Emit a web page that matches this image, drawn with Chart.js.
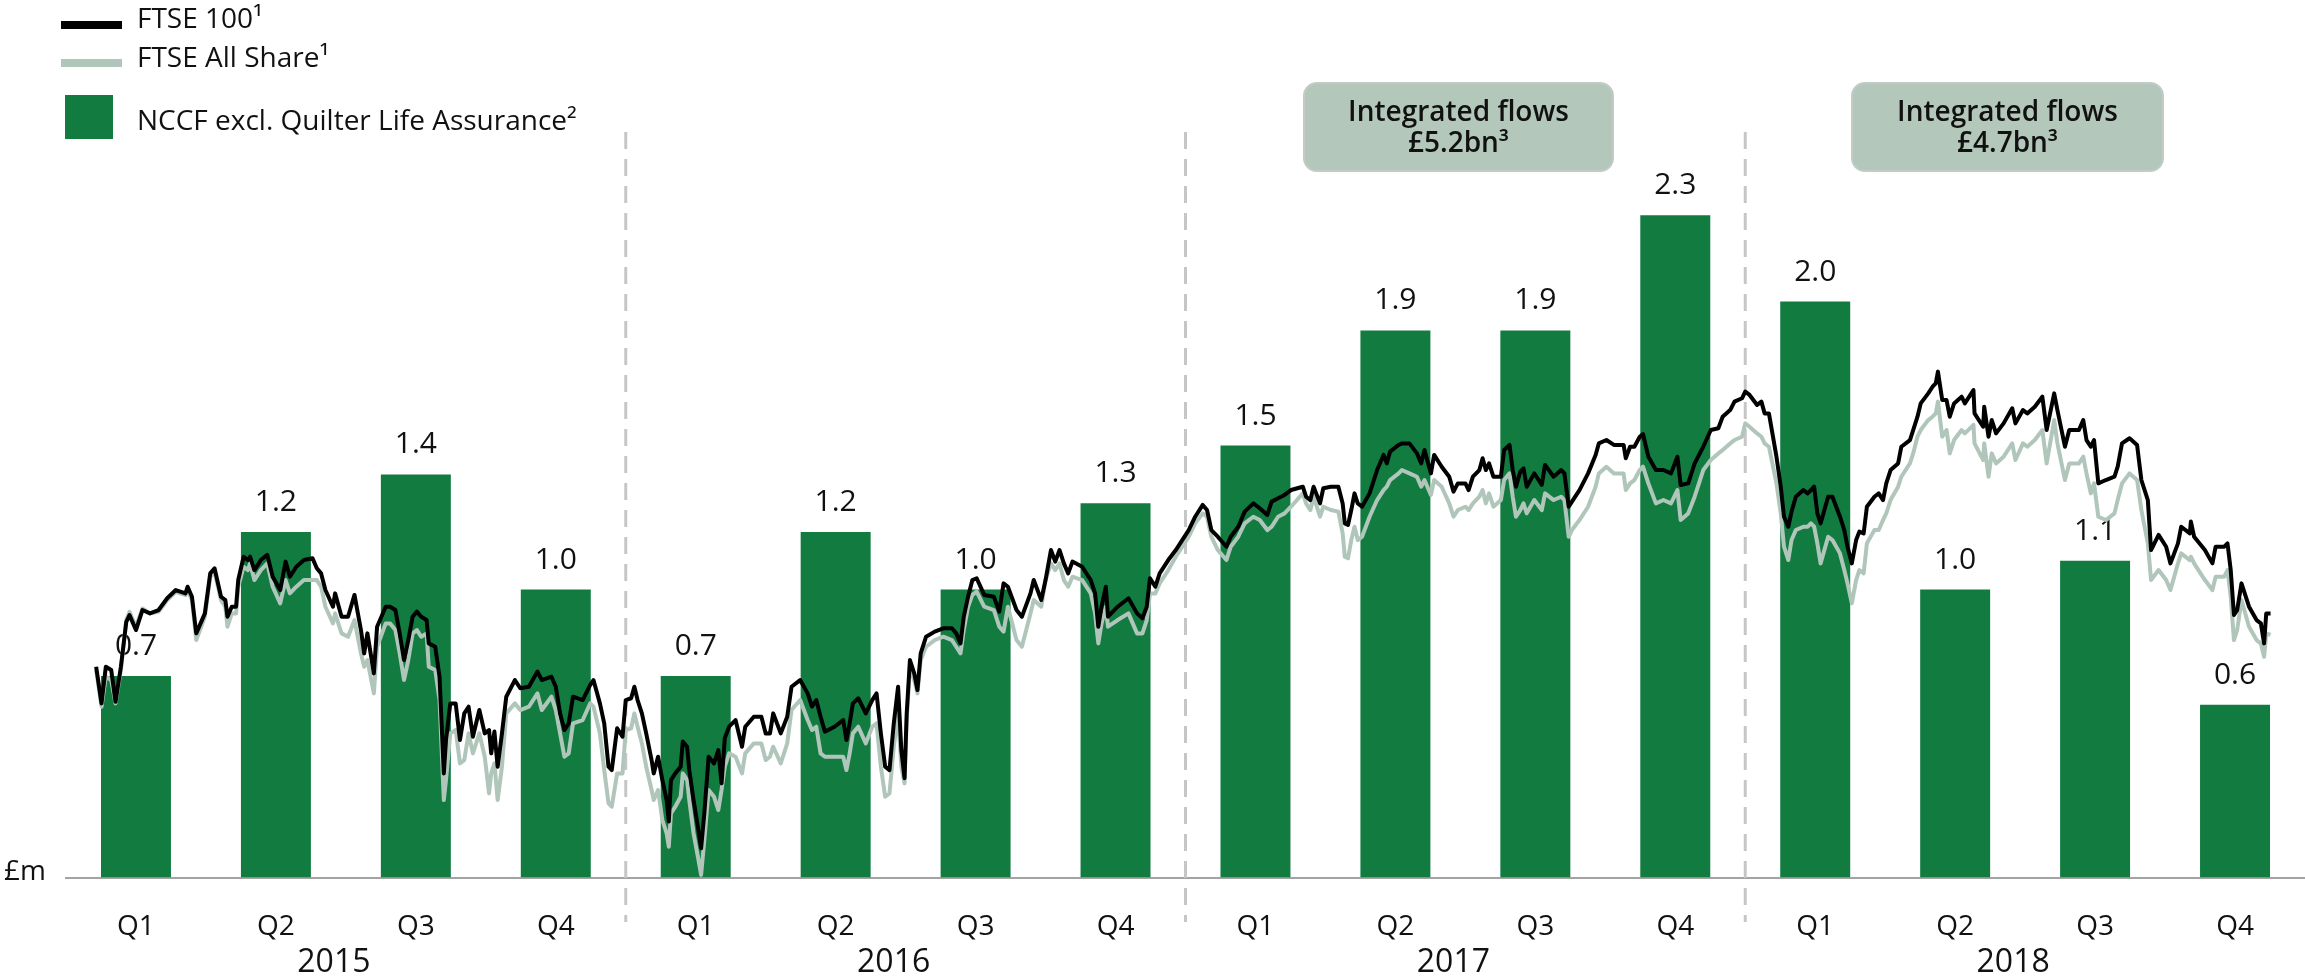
<!DOCTYPE html>
<html>
<head>
<meta charset="utf-8">
<script src="https://cdn.jsdelivr.net/npm/chart.js@4"></script>
<style>
    body { margin: 0; background: #fff; }
    #wrap { position: relative; width: 2305px; height: 980px; font-family: 'Open Sans', sans-serif; color: #111; }
    #chart { position: absolute; left: 0; top: 0; }
    .leg-line { position: absolute; left: 61px; width: 61px; height: 8px; }
    .leg-box { position: absolute; left: 65px; top: 95px; width: 48px; height: 44px; background: #117b40; }
    .leg-text { position: absolute; left: 137px; font-size: 28px; line-height: 28px; white-space: nowrap; }
    .unit { position: absolute; left: 4px; top: 855px; font-size: 28px; line-height: 28px; }
    .flow-box {
        position: absolute; top: 82px; height: 90px; box-sizing: border-box;
        border: 2px solid #c2cbc6; border-radius: 14px; background: #b3c7bb;
    }
    .flow-box div {
        position: absolute; left: 0; right: 0; text-align: center;
        font-size: 28px; font-weight: 600; line-height: 28px; white-space: nowrap;
    }
    .flow-box .l1 { top: 12px; }
    .flow-box .l2 { top: 43px; }
</style>
</head>
<body>
<div id="wrap">
    <canvas id="chart" width="2305" height="980"></canvas>

    <!-- legend -->
    <div class="leg-line" style="top:21px;background:#000;"></div>
    <div class="leg-text" style="top:3px;">FTSE 100¹</div>
    <div class="leg-line" style="top:59px;background:#b0c6ba;"></div>
    <div class="leg-text" style="top:42px;">FTSE All Share¹</div>
    <div class="leg-box"></div>
    <div class="leg-text" style="top:105px;">NCCF excl. Quilter Life Assurance²</div>

    <div class="unit">£m</div>

    <!-- integrated flows call-outs -->
    <div class="flow-box" style="left:1303px;width:311px;"><div class="l1">Integrated flows</div><div class="l2">£5.2bn³</div></div>
    <div class="flow-box" style="left:1851px;width:313px;"><div class="l1">Integrated flows</div><div class="l2">£4.7bn³</div></div>
</div>

<script>
// --- Data ---
const quarterLabels = ['Q1','Q2','Q3','Q4','Q1','Q2','Q3','Q4','Q1','Q2','Q3','Q4','Q1','Q2','Q3','Q4'];
const yearLabels = ['2015', '2016', '2017', '2018'];
const nccf = [0.7, 1.2, 1.4, 1.0, 0.7, 1.2, 1.0, 1.3, 1.5, 1.9, 1.9, 2.3, 2.0, 1.0, 1.1, 0.6];

// index series, x = week number from 1 Jan 2015 (0..208)
const weeks = [
    2.8,3.3,3.7,4.2,4.6,5.1,5.6,5.9,6.5,7.1,
    7.8,8.6,9.4,10.2,11.1,11.3,11.7,12.1,12.9,13.4,
    13.8,14.4,14.8,15.0,15.4,15.8,16.0,16.5,16.9,17.1,
    17.5,18.1,18.7,19.2,19.9,20.4,20.8,21.4,22.1,22.9,
    23.3,23.7,24.1,24.8,25.0,25.6,26.2,26.8,27.4,27.7,
    28.0,28.6,28.9,29.7,30.1,30.6,31.0,31.4,31.8,32.2,
    32.6,33.0,33.5,33.7,34.3,34.7,35.1,35.3,35.7,36.2,
    36.6,37.0,37.4,37.8,38.4,38.9,39.3,39.5,39.8,40.1,
    40.5,40.9,41.7,42.2,43.0,43.8,44.2,45.1,45.5,45.9,
    46.3,46.7,47.1,48.0,48.7,49.0,
    49.6,50.0,50.4,50.7,51.2,51.7,52.0,52.5,52.8,53.1,
    53.5,53.9,54.4,54.6,55.0,55.4,55.8,56.0,56.2,56.6,
    57.1,57.3,57.7,57.9,58.3,58.7,59.0,59.3,59.7,60.2,
    60.6,60.9,61.2,61.6,62.2,62.8,63.1,63.9,64.6,65.0,
    65.4,65.7,66.4,67.0,67.4,68.2,68.9,69.3,69.7,70.1,
    70.5,71.4,72.2,72.5,72.8,73.1,73.6,74.3,74.9,75.3,
    75.7,76.1,76.5,76.9,77.3,77.6,77.9,78.1,78.4,78.8,
    79.1,79.4,79.9,80.7,81.5,82.3,82.7,83.1,83.4,83.8,
    84.2,84.6,85.3,86.2,86.7,87.1,87.5,88.3,88.8,89.6,
    89.9,90.6,91.0,91.5,91.9,92.3,92.7,93.1,93.5,94.4,
    95.2,95.6,95.9,96.2,96.6,96.8,97.7,98.7,99.5,100.0,
    100.4,100.7,101.2,101.6,102.4,103.1,103.7,104.3,104.9,105.6,
    106.0,106.4,107.0,107.8,108.2,108.9,109.5,110.3,110.9,111.6,
    112.0,112.6,113.2,113.8,
    114.9,115.2,115.6,115.9,116.5,116.8,117.5,118.2,118.6,118.8,
    119.1,119.4,119.7,120.0,120.4,121.1,121.8,122.4,122.7,123.0,
    123.8,124.1,124.8,125.5,125.9,126.2,126.8,127.1,127.8,128.5,
    128.9,129.3,130.0,130.3,130.7,131.3,131.6,131.9,132.2,132.6,
    133.3,133.6,134.1,134.4,134.7,135.1,135.4,135.7,136.4,137.1,
    137.4,138.2,138.9,139.2,139.6,139.9,140.6,141.4,142.1,142.4,
    143.1,143.8,144.7,144.9,145.3,145.7,146.2,146.5,147.0,147.7,
    148.4,149.1,149.7,150.0,150.7,151.3,
    152.1,152.8,153.5,153.9,154.6,155.0,155.7,156.0,156.4,157.1,
    157.5,157.8,158.2,158.9,159.3,159.6,160.0,160.3,160.7,161.4,
    161.8,162.1,162.4,162.7,163.0,163.7,164.1,164.8,165.2,165.5,
    165.9,166.3,166.6,167.0,167.3,168.0,168.4,168.8,169.1,169.5,
    170.2,170.5,171.3,171.6,172.0,172.3,173.0,173.4,173.7,173.9,
    174.3,174.7,175.0,175.4,176.1,176.4,177.2,177.3,178.1,178.2,
    178.6,178.9,179.3,180.0,180.8,181.1,181.8,182.2,182.9,183.6,
    184.0,184.7,185.0,185.7,186.1,187.0,187.4,187.7,188.1,188.4,
    188.8,189.5,190.3,190.6,191.0,191.7,192.4,192.8,193.4,193.7,
    194.4,195.1,195.5,196.2,196.5,197.3,197.4,197.7,198.7,199.4,
    199.7,200.5,200.8,201.1,201.4,201.7,202.1,202.8,203.5,203.9,
    204.2,204.4,204.8
];

const ftse100 = [
    6449,6284,6449,6434,6291,6449,6651,6681,6614,6704,
    6689,6704,6757,6794,6779,6809,6764,6599,6689,6869,
    6892,6764,6749,6674,6719,6719,6839,6944,6929,6944,
    6884,6929,6952,6854,6794,6922,6854,6899,6929,6937,
    6892,6869,6794,6719,6779,6674,6674,6772,6614,6509,
    6599,6419,6629,6719,6719,6704,6599,6479,6569,6674,
    6697,6674,6659,6554,6539,6404,5969,6119,6284,6284,
    6119,6239,6269,6134,6254,6149,6164,6059,6157,5999,
    6149,6314,6389,6352,6359,6427,6389,6404,6359,6239,
    6164,6194,6314,6299,6367,6389,
    6284,6194,5999,5984,6172,6134,6299,6307,6359,6299,
    6239,6149,6029,5969,6044,5939,5849,5752,5939,5969,
    5999,6112,6089,5984,5849,5729,5632,5789,6044,6014,
    6074,5924,6127,6179,6209,6089,6179,6224,6224,6149,
    6149,6239,6149,6224,6359,6389,6329,6269,6299,6224,
    6157,6179,6209,6119,6194,6284,6307,6239,6299,6329,
    6149,5999,5984,6194,6359,6074,5947,6239,6479,6419,
    6344,6509,6584,6607,6622,6622,6599,6554,6674,6764,
    6839,6847,6772,6764,6697,6824,6809,6704,6674,6779,
    6839,6749,6839,6974,6922,6974,6914,6869,6922,6899,
    6839,6779,6629,6719,6809,6674,6719,6757,6689,6667,
    6719,6847,6809,6869,6929,6974,7019,7064,7124,7177,
    7154,7064,7034,6989,7034,7079,7147,7184,7162,7132,
    7192,7207,7222,7244,
    7259,7214,7199,7259,7184,7252,7259,7259,7184,7094,
    7087,7154,7229,7184,7169,7229,7334,7402,7364,7417,
    7447,7454,7454,7409,7364,7424,7319,7402,7349,7304,
    7237,7274,7274,7244,7304,7334,7387,7334,7364,7304,
    7304,7424,7447,7334,7259,7327,7342,7259,7319,7267,
    7357,7304,7334,7319,7169,7192,7244,7319,7402,7454,
    7469,7447,7447,7387,7439,7439,7484,7496,7394,7334,
    7334,7319,7394,7267,7274,7364,
    7439,7514,7522,7574,7604,7642,7657,7687,7672,7627,
    7642,7589,7589,7394,7259,7124,7079,7147,7214,7244,
    7229,7244,7259,7139,7094,7214,7214,7124,7064,6989,
    6914,7019,7057,7049,7169,7214,7229,7199,7274,7334,
    7364,7439,7469,7514,7574,7634,7679,7709,7724,7777,
    7649,7649,7574,7634,7664,7634,7694,7589,7529,7619,
    7484,7559,7499,7544,7612,7544,7604,7589,7619,7664,
    7514,7679,7604,7439,7514,7514,7559,7469,7439,7469,
    7274,7289,7304,7349,7454,7477,7447,7289,7199,6974,
    7042,6989,6914,7004,7079,7049,7102,7034,6974,6914,
    6989,6989,7004,6884,6682,6704,6824,6719,6659,6644,
    6554,6689,6689
];

// FTSE All Share, rebased to the FTSE 100 scale
const allShare = [
    6434,6269,6404,6389,6284,6434,6659,6696,6629,6711,
    6689,6696,6749,6786,6771,6794,6749,6569,6674,6854,
    6877,6749,6719,6629,6689,6689,6809,6899,6884,6914,
    6839,6884,6914,6809,6734,6839,6779,6809,6839,6839,
    6839,6809,6719,6644,6689,6599,6584,6659,6509,6449,
    6479,6329,6539,6644,6644,6614,6509,6389,6479,6599,
    6614,6584,6599,6449,6434,6299,5849,5939,6149,6164,
    6014,6029,6149,6059,6149,6044,5879,5969,6014,5849,
    5999,6239,6284,6254,6269,6329,6254,6314,6254,6149,
    6044,6059,6194,6209,6284,6269,
    6149,5984,5834,5819,5969,5969,6164,6172,6239,6179,
    6104,5999,5894,5849,5894,5759,5699,5639,5789,5819,
    5864,5969,5939,5849,5699,5594,5512,5669,5894,5864,
    5804,5894,5999,6059,6044,5969,6059,6104,6104,6029,
    6044,6089,6014,6104,6254,6299,6209,6164,6179,6059,
    6044,6044,6044,5984,6059,6149,6179,6104,6179,6194,
    5999,5864,5879,6089,6239,5999,5924,6209,6449,6389,
    6329,6479,6539,6569,6584,6569,6539,6509,6614,6719,
    6772,6787,6719,6704,6629,6607,6719,6569,6539,6689,
    6749,6719,6839,6914,6884,6914,6839,6809,6854,6839,
    6779,6689,6554,6644,6719,6629,6659,6689,6599,6599,
    6659,6779,6779,6824,6884,6944,6989,7034,7094,7139,
    7124,7034,6974,6929,6989,7034,7094,7124,7109,7064,
    7079,7124,7139,7169,
    7229,7184,7154,7214,7124,7169,7154,7147,7049,6944,
    6937,7019,7079,7019,7034,7124,7199,7244,7259,7289,
    7319,7334,7319,7304,7259,7289,7222,7289,7259,7184,
    7124,7154,7169,7154,7184,7214,7244,7184,7229,7169,
    7199,7289,7319,7214,7124,7154,7184,7139,7199,7154,
    7229,7199,7214,7199,7034,7064,7109,7169,7259,7319,
    7349,7319,7319,7244,7274,7289,7334,7349,7274,7184,
    7199,7184,7244,7109,7139,7214,
    7334,7379,7409,7424,7454,7469,7484,7544,7529,7499,
    7484,7454,7439,7274,7139,6989,6929,7019,7064,7079,
    7079,7094,7079,7004,6914,7034,7019,6959,6884,6824,
    6734,6839,6884,6869,7004,7064,7064,7109,7139,7199,
    7259,7304,7364,7409,7484,7514,7559,7574,7589,7642,
    7484,7514,7409,7469,7514,7499,7537,7454,7379,7454,
    7304,7409,7364,7394,7454,7379,7454,7439,7469,7514,
    7364,7559,7454,7289,7364,7364,7394,7319,7229,7274,
    7124,7109,7139,7199,7274,7319,7289,7154,7004,6839,
    6884,6839,6794,6914,6959,6929,6944,6914,6839,6794,
    6854,6854,6884,6764,6569,6614,6749,6629,6569,6554,
    6494,6599,6592
];

const GREEN = '#117b40';
const SAGE = '#b0c6ba';

const toPoints = (vals) => weeks.slice(0, vals.length).map((w, i) => ({ x: w, y: vals[i] }));

// --- Plugins: year separators + bar value labels ---
const separators = {
    id: 'separators',
    beforeDatasetsDraw(chart) {
        const xs = chart.scales.x;
        const ctx = chart.ctx;
        ctx.save();
        ctx.strokeStyle = '#c6c6c6';
        ctx.lineWidth = 3;
        ctx.setLineDash([17, 10]);
        [4, 8, 12].forEach(i => {
            const x = (xs.getPixelForValue(i - 1) + xs.getPixelForValue(i)) / 2;
            ctx.beginPath();
            ctx.moveTo(x, 132);
            ctx.lineTo(x, 922);
            ctx.stroke();
        });
        ctx.restore();
    }
};

const valueLabels = {
    id: 'valueLabels',
    afterDatasetDraw(chart, args) {
        if (args.index !== 0) return;
        const ctx = chart.ctx;
        ctx.save();
        ctx.fillStyle = '#111';
        ctx.font = "30px 'Open Sans'";
        ctx.textAlign = 'center';
        ctx.textBaseline = 'alphabetic';
        args.meta.data.forEach((bar, i) => {
            ctx.fillText(nccf[i].toFixed(1), bar.x, bar.y - 21);
        });
        ctx.restore();
    }
};

Chart.defaults.font.family = "'Open Sans', sans-serif";
Chart.defaults.color = '#111';

new Chart(document.getElementById('chart'), {
    type: 'bar',
    data: {
        labels: quarterLabels,
        datasets: [
            {
                label: 'NCCF excl. Quilter Life Assurance',
                data: nccf,
                backgroundColor: GREEN,
                grouped: false,
                barPercentage: 0.5,
                categoryPercentage: 1.0,
                xAxisID: 'x',
                yAxisID: 'y',
                order: 3
            },
            {
                type: 'line',
                label: 'FTSE All Share',
                data: toPoints(allShare),
                borderColor: SAGE,
                borderWidth: 4,
                borderJoinStyle: 'round',
                pointRadius: 0,
                tension: 0,
                xAxisID: 'xl',
                yAxisID: 'yl',
                order: 2
            },
            {
                type: 'line',
                label: 'FTSE 100',
                data: toPoints(ftse100),
                borderColor: '#000',
                borderWidth: 4,
                borderJoinStyle: 'round',
                pointRadius: 0,
                tension: 0,
                xAxisID: 'xl',
                yAxisID: 'yl',
                order: 1
            }
        ]
    },
    options: {
        responsive: false,
        animation: false,
        devicePixelRatio: 1,
        layout: { padding: { left: 66, top: 13.6, right: 0, bottom: 0 } },
        plugins: { legend: { display: false }, tooltip: { enabled: false } },
        scales: {
            x: {
                position: 'bottom',
                weight: 0,
                grid: { display: false, drawTicks: false },
                border: { display: true, color: '#a3a3a3', width: 2 },
                ticks: { font: { size: 28 }, padding: 33, maxRotation: 0, autoSkip: false },
                afterFit: (scale) => { scale.height = 66; }
            },
            x2: {
                type: 'category',
                labels: yearLabels,
                position: 'bottom',
                weight: 1,
                offset: true,
                grid: { display: false, drawTicks: false },
                border: { display: false },
                ticks: { font: { size: 32 }, padding: 0, labelOffset: -12, maxRotation: 0 },
                afterFit: (scale) => { scale.height = 36.4; }
            },
            xl: { type: 'linear', position: 'bottom', display: false, min: 0, max: 208, offset: false },
            y: { display: false, min: 0, max: 3 },
            yl: { type: 'linear', display: false, min: 5500, max: 9388 }
        }
    },
    plugins: [separators, valueLabels]
});
</script>
</body>
</html>
